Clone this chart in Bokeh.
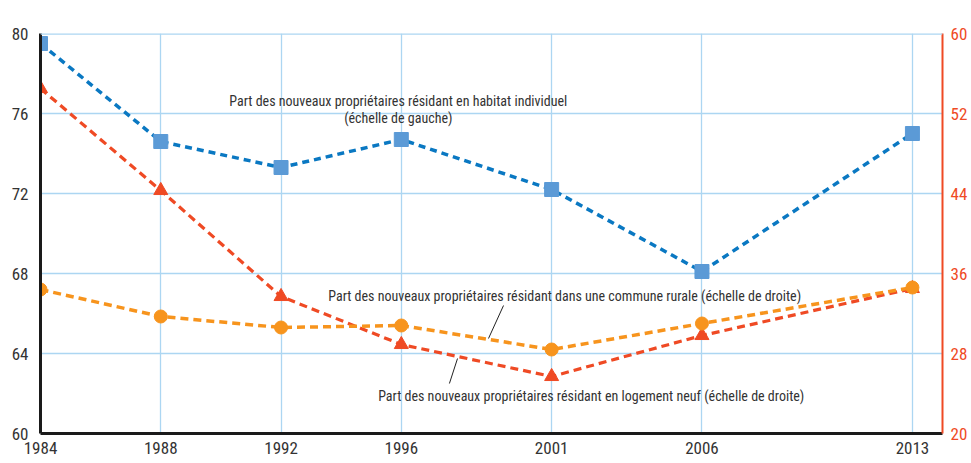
from bokeh.plotting import figure
from bokeh.models import Range1d, LinearAxis, FixedTicker, Label, Span
from bokeh.embed import file_html
from bokeh.resources import INLINE

years = [1984, 1988, 1992, 1996, 2001, 2006, 2013]
habitat_individuel = [79.5, 74.6, 73.3, 74.7, 72.2, 68.1, 75.0]   # left axis
logement_neuf = [54.5, 44.3, 33.7, 28.9, 25.7, 29.8, 34.5]        # right axis
commune_rurale = [34.4, 31.7, 30.6, 30.8, 28.4, 31.0, 34.6]       # right axis

left_ticks = [60, 64, 68, 72, 76, 80]
right_ticks = [20, 28, 36, 44, 52, 60]

FONT = "Roboto Condensed"
BLUE_LINE = "#0a78c2"
BLUE_MARK = "#5b9ad6"
RED = "#ef4a24"
ORANGE = "#f7941d"
GRID = "#acd6f2"
TXT = "#333333"

p = figure(width=971, height=463, output_backend="svg", toolbar_location=None,
           x_range=Range1d(1984, 2014), y_range=Range1d(60, 80),
           min_border_left=40, min_border_right=29, min_border_top=33, min_border_bottom=30)
p.outline_line_color = None
p.extra_y_ranges = {"right": Range1d(20, 60)}

p.xaxis.ticker = FixedTicker(ticks=years)
p.yaxis.ticker = FixedTicker(ticks=left_ticks)
for ax in (p.xaxis[0], p.yaxis[0]):
    ax.axis_line_color = "#1a1a1a"
    ax.axis_line_width = 3
    ax.major_tick_out = 0
    ax.major_tick_in = 0
    ax.minor_tick_out = 0
    ax.minor_tick_in = 0
    ax.major_label_text_font = FONT
    ax.major_label_text_font_size = "17px"
    ax.major_label_text_color = TXT
p.xaxis.major_label_standoff = 8
p.yaxis.major_label_standoff = 12

ra = LinearAxis(y_range_name="right", ticker=FixedTicker(ticks=right_ticks))
ra.axis_line_color = RED
ra.axis_line_width = 2
ra.major_tick_out = 0
ra.major_tick_in = 0
ra.minor_tick_out = 0
ra.minor_tick_in = 0
ra.major_label_text_font = FONT
ra.major_label_text_font_size = "17px"
ra.major_label_text_color = RED
ra.major_label_standoff = 8
p.add_layout(ra, "right")

p.xgrid.grid_line_color = GRID
p.ygrid.grid_line_color = GRID
p.xgrid.grid_line_width = 1.3
p.ygrid.grid_line_width = 1.3
p.add_layout(Span(location=80, dimension="width", line_color=GRID, line_width=2.5))

p.line(years, logement_neuf, y_range_name="right", line_color=RED, line_width=3.2, line_dash="8 5")
p.scatter(years, logement_neuf, y_range_name="right", marker="triangle", size=14,
          fill_color=RED, line_color=RED)
p.line(years, commune_rurale, y_range_name="right", line_color=ORANGE, line_width=3.5, line_dash="8 5")
p.scatter(years, commune_rurale, y_range_name="right", marker="circle", size=13,
          fill_color=ORANGE, line_color=ORANGE)
p.line(years, habitat_individuel, line_color=BLUE_LINE, line_width=3.5, line_dash="7 5")
p.scatter(years, habitat_individuel, marker="square", size=14,
          fill_color=BLUE_MARK, line_color=BLUE_MARK)

def lab(x, y, t, align="left", color=TXT, size="14px", base="middle"):
    p.add_layout(Label(x=x, y=y, text=t, text_align=align, text_baseline=base,
                       text_font=FONT, text_font_size=size, text_color=color))

lab(1995.9, 76.65, "Part des nouveaux propriétaires résidant en habitat individuel", align="center")
lab(1995.9, 75.8, "(échelle de gauche)", align="center")
lab(1993.57, 66.9, "Part des nouveaux propriétaires résidant dans une commune rurale (échelle de droite)")
lab(1995.23, 61.9, "Part des nouveaux propriétaires résidant en logement neuf (échelle de droite)")
lab(1983.9, 80.85, "en %", size="16px")
lab(2014.25, 80.85, "en %", align="right", color=RED, size="16px")

leader_x0 = [1999.4, 1997.87]
leader_y0 = [66.4, 63.75]
leader_x1 = [1998.9, 1997.6]
leader_y1 = [64.75, 62.5]
p.segment(leader_x0, leader_y0, leader_x1, leader_y1, line_color="#222222", line_width=1)

open("out.html", "w").write(file_html(p, INLINE))
